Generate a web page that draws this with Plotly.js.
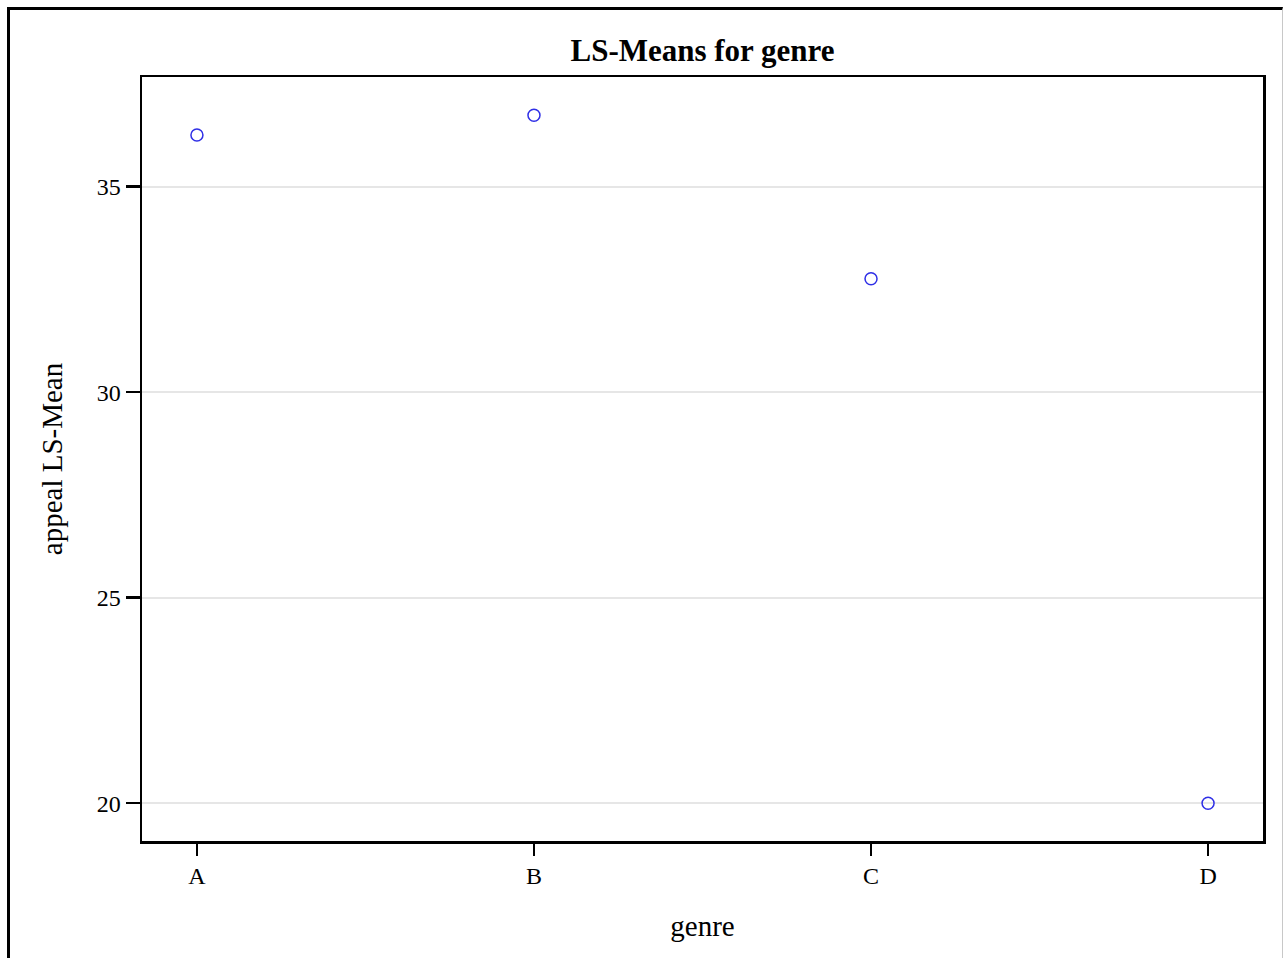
<!DOCTYPE html>
<html>
<head>
<meta charset="utf-8">
<script src="https://cdn.plot.ly/plotly-3.0.1.min.js"></script>
<style>
  html, body { margin: 0; padding: 0; background: #fff; overflow: hidden; }
  #chart { position: absolute; left: 0; top: 0; width: 1285px; height: 958px; }
  #frame { position: absolute; left: 7px; top: 7px; width: 1272px; height: 1000px;
           border-left: 3px solid #000; border-top: 3px solid #000; border-right: 1px solid #c8c8c8;
           pointer-events: none; }
</style>
</head>
<body>
<div id="chart"></div>
<div id="frame"></div>
<script>
const genres = ["A", "B", "C", "D"];
const lsMeans = [36.26, 36.74, 32.76, 20.0];
const yTicks = [20, 25, 30, 35];

const serif = "Liberation Serif, Times New Roman, serif";

const trace = {
  type: "scatter",
  mode: "markers",
  x: [0, 1, 2, 3],
  y: lsMeans,
  marker: { symbol: "circle-open", size: 12, color: "#2f2fe6", line: { width: 1.5, color: "#2f2fe6" } },
  hoverinfo: "x+y"
};

const layout = {
  width: 1285,
  height: 958,
  margin: { l: 142, r: 22, t: 77, b: 117 },
  paper_bgcolor: "#fff",
  plot_bgcolor: "#fff",
  showlegend: false,
  font: { family: serif, color: "#000" },
  title: {
    text: "<b>LS-Means for genre</b>",
    font: { family: serif, size: 31, color: "#000" },
    x: 0.5, xref: "paper", xanchor: "center",
    y: 1, yref: "paper", yanchor: "bottom", pad: { b: 16 }
  },
  xaxis: {
    range: [-0.163, 3.163],
    tickmode: "array",
    tickvals: [0, 1, 2, 3],
    ticktext: genres,
    showgrid: false,
    zeroline: false,
    showline: true, mirror: true, linecolor: "#000", linewidth: 2.5,
    ticks: "outside", ticklen: 12, tickwidth: 2.5, tickcolor: "#000",
    tickfont: { family: serif, size: 24, color: "#000" },
    title: { text: "genre", font: { family: serif, size: 29, color: "#000" }, standoff: 28 }
  },
  yaxis: {
    range: [19.08, 37.67],
    tickmode: "array",
    tickvals: yTicks,
    ticktext: yTicks.map(String),
    showgrid: true, gridcolor: "#e6e6e6", gridwidth: 2,
    zeroline: false,
    showline: true, mirror: true, linecolor: "#000", linewidth: 2.5,
    ticks: "outside", ticklen: 14, tickwidth: 2.5, tickcolor: "#000",
    tickfont: { family: serif, size: 24, color: "#000" },
    title: { text: "appeal LS-Mean", font: { family: serif, size: 29, color: "#000" }, standoff: 26 }
  }
};

Plotly.newPlot("chart", [trace], layout, { displayModeBar: false, staticPlot: true });
</script>
</body>
</html>
